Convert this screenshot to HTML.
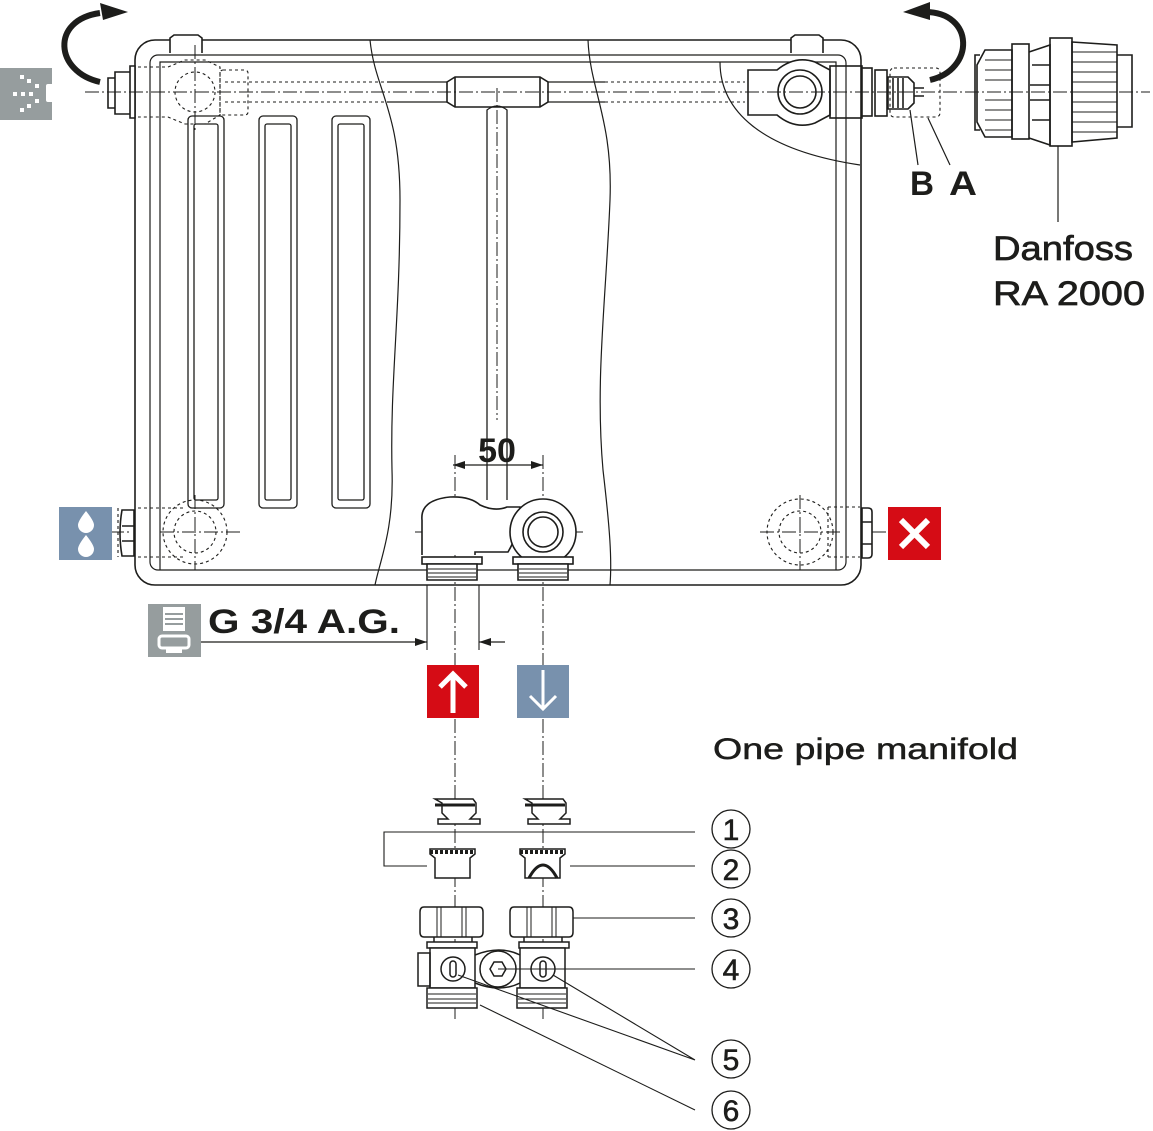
<!DOCTYPE html>
<html><head><meta charset="utf-8"><style>
html,body{margin:0;padding:0;background:#fff}
svg{display:block}
text{font-family:"Liberation Sans",sans-serif;fill:#1d1d1b}
</style></head><body>
<svg width="1153" height="1131" viewBox="0 0 1153 1131" xmlns="http://www.w3.org/2000/svg">
<defs>
<marker id="ar" markerWidth="12" markerHeight="8" refX="12" refY="4" orient="auto" markerUnits="userSpaceOnUse"><path d="M0,0 L12,4 L0,8 z" fill="#1d1d1b"/></marker>
</defs>
<g fill="none" stroke="#1d1d1b" stroke-width="1.6">
<rect x="135" y="40" width="726" height="545" rx="20"/>
<rect x="150" y="55" width="696" height="515" rx="8" stroke-width="1.2"/>
<path d="M160 570 V62 H836 V570" stroke-width="1.2"/>
<path d="M170 53 V38 l4 -3 h24 l4 3 V53" fill="#fff"/>
<path d="M791 53 V38 l4 -3 h24 l4 3 V53" fill="#fff"/>
<g stroke-width="1.3">
<rect x="188" y="116" width="36" height="392" rx="4"/><rect x="194" y="124" width="24" height="376" rx="2"/>
<rect x="259" y="116" width="38" height="392" rx="4"/><rect x="265" y="124" width="26" height="376" rx="2"/>
<rect x="332" y="116" width="38" height="392" rx="4"/><rect x="338" y="124" width="26" height="376" rx="2"/>
</g>
<path d="M370 40 C375 90 400 110 400 200 C400 320 390 380 392 470 C394 530 380 560 375 585" stroke-width="1.2"/>
<path d="M588 40 C590 90 613 120 610 200 C606 300 595 380 603 470 C610 530 612 560 610 585" stroke-width="1.2"/>
<path d="M720 62 C720 110 760 150 860 165" stroke-width="1.2"/>
<path d="M387 82 H447 M387 102 H447 M548 82 H605 M548 102 H605" stroke-width="1.3"/>
<path d="M225 82 H387 M225 102 H387 M605 82 H745 M605 102 H745" stroke-width="1.1" stroke-dasharray="3 3"/>
<path d="M447 82 l8 -5 h85 l8 5 v20 l-8 5 h-85 l-8 -5 z" fill="#fff"/>
<path d="M455 77 v30 M540 77 v30"/>
<path d="M487 500 V110 q10 -8 20 0 V500" stroke-width="1.3"/>
<g stroke-width="1.1" stroke-dasharray="3 3">
<path d="M138 67 H168 L185 60 H205 L220 67 V115 L205 124 H185 L168 117 H138"/>
<circle cx="195" cy="92" r="20"/>
<rect x="220" y="70" width="28" height="45" rx="3"/>
<circle cx="195" cy="532" r="32"/><circle cx="195" cy="532" r="21"/>
<path d="M138 508 H185 M138 557 H185 M118 508 v49"/>
<circle cx="800" cy="532" r="33"/><circle cx="800" cy="532" r="21"/>
<path d="M828 507 H860 M828 557 H860 M828 507 v50"/>
</g>
<path d="M115 72 h15 v42 h-15 z M108 78 h7 v30 h-7 z M130 66 h5 v52 h-5 z" fill="#fff"/>
<path d="M122 510 h12 v46 h-12 q-4 -23 0 -46 z" fill="#fff"/>
<path d="M122 526 h12 M122 541 h12"/>
<path d="M862 508 h6 q4 0 4 4 v42 q0 4 -4 4 h-6 z M862 522 h10 M862 544 h10" fill="#fff"/>
<path d="M748 70 H777 Q795 55 815 62 L830 70 V115 L815 123 Q795 130 777 115 H748 Z" fill="#fff"/>
<circle cx="800" cy="92" r="22"/><circle cx="800" cy="92" r="16"/>
<rect x="830" y="66" width="32" height="52"/>
<rect x="862" y="68" width="10" height="48" fill="#fff"/>
<rect x="875" y="70" width="12" height="46"/>
<path d="M888 77 h20 l6 6 v20 l-6 6 h-20 z"/>
<path d="M893 78 v30 M898 78 v30 M903 78 v30"/>
<path d="M914 88 h10 M914 96 h10"/>
<rect x="890" y="68" width="50" height="49" rx="4" stroke-width="1.1" stroke-dasharray="3 3"/>
<path d="M985 50 H1012 V137 H985 L977 122 V65 Z" fill="#fff"/>
<path d="M980 55 h-5 v75 h5"/>
<rect x="1012" y="44" width="17" height="95"/>
<path d="M1029 52 L1050 45 V145 L1029 138"/>
<path d="M1030 85 h20 M1030 100 h20 M1032 65 h18 M1032 120 h18"/>
<rect x="1050" y="38" width="22" height="108"/>
<path d="M1072 42 L1117 45 V138 L1072 142 Z"/>
<path d="M1117 55 h15 v72 h-15"/>
<g stroke-width="1">
<path d="M985 60 h27 M985 70 h27 M985 80 h27 M985 100 h27 M985 110 h27 M985 120 h27 M985 130 h27"/>
<path d="M1072 52 h45 M1072 62 h45 M1072 72 h45 M1072 82 h45 M1072 92 h45 M1072 102 h45 M1072 112 h45 M1072 122 h45 M1072 132 h45"/>
</g>
<path d="M1058 146 V222" stroke-width="1.2"/>
<path d="M910 110 L918 165 M928 118 L950 165" stroke-width="1.2"/>
<g stroke-width="1" stroke-dasharray="14 3 2 3">
<path d="M85 92 H1150"/>
<path d="M195 45 V130"/>
<path d="M160 532 H240 M110 532 H130"/>
<path d="M195 495 V570"/>
<path d="M760 532 H840 M872 532 H890"/>
<path d="M800 495 V570"/>
<path d="M497 88 V420"/>
<path d="M415 532 H585"/>
<path d="M455 455 V1020"/>
<path d="M543 455 V1020"/>
</g>
<path d="M422 555 V520 Q420 500 450 497 Q470 496 480 505 Q495 512 507 507 H520 Q520 532 508 552 H475 V555" fill="#fff"/>
<circle cx="543" cy="532" r="33" fill="#fff"/>
<circle cx="543" cy="532" r="20"/><circle cx="543" cy="532" r="15"/>
<rect x="422" y="557" width="60" height="7" fill="#fff"/>
<rect x="513" y="557" width="60" height="7" fill="#fff"/>
<path d="M427 564 h50 v16 h-50 z M518 564 h50 v16 h-50 z" fill="#fff"/>
<path d="M428 569 h48 M428 573 h48 M428 577 h48 M519 569 h48 M519 573 h48 M519 577 h48" stroke-width="1"/>
<path d="M497 465 H453" marker-end="url(#ar)" stroke-width="1.2"/>
<path d="M497 465 H543" marker-end="url(#ar)" stroke-width="1.2"/>
<path d="M427 585 V650 M479 585 V650" stroke-width="1.1"/>
<path d="M201 642 H427" marker-end="url(#ar)" stroke-width="1.2"/>
<path d="M505 642 H479" marker-end="url(#ar)" stroke-width="1.2"/>
<g stroke-width="1.5">
<path d="M435 799 h38 l3 4 v10 l-6 6 h10 v5 h-42 v-5 h10 l-6 -6 v-10 z" fill="#fff"/>
<path d="M435 805 h40" stroke-width="3"/>
<path d="M525 799 h38 l3 4 v10 l-6 6 h10 v5 h-42 v-5 h10 l-6 -6 v-10 z" fill="#fff"/>
<path d="M525 805 h40" stroke-width="3"/>
<path d="M430 849 h45 v5 l-5 4 v20 h-35 v-20 l-5 -4 z" fill="#fff"/>
<path d="M430 852 h45" stroke-width="4" stroke-dasharray="3 2"/>
<path d="M520 849 h45 v5 l-5 4 v20 h-35 v-20 l-5 -4 z" fill="#fff"/>
<path d="M520 852 h45" stroke-width="4" stroke-dasharray="3 2"/>
<path d="M529 878 q14 -26 28 0" stroke-width="3"/>
<path d="M424 907 h55 q4 0 4 5 v20 q0 5 -4 5 h-55 q-4 0 -4 -5 v-20 q0 -5 4 -5 z" fill="#fff"/>
<path d="M437 907 v30 M466 907 v30 M441 907 v30 M462 907 v30" stroke-width="1"/>
<path d="M514 907 h55 q4 0 4 5 v20 q0 5 -4 5 h-55 q-4 0 -4 -5 v-20 q0 -5 4 -5 z" fill="#fff"/>
<path d="M527 907 v30 M556 907 v30 M531 907 v30 M552 907 v30" stroke-width="1"/>
<path d="M434 937 v10 h38 v-10 M524 937 v10 h38 v-10"/>
<rect x="427" y="942" width="50" height="6" fill="#fff"/>
<rect x="519" y="942" width="50" height="6" fill="#fff"/>
<path d="M430 948 h45 v40 h-45 z M520 948 h45 v40 h-45 z" fill="#fff"/>
<path d="M418 953 h12 v33 h-12 z"/>
<path d="M475 955 Q500 945 520 955 M475 983 Q500 993 520 983"/>
<circle cx="498" cy="969" r="18" fill="#fff"/>
<path d="M490 969 l4 -7 h8 l4 7 l-4 7 h-8 z"/>
<circle cx="453" cy="969" r="12"/><circle cx="543" cy="969" r="12"/>
<rect x="450" y="961" width="6" height="16" rx="3"/><rect x="540" y="961" width="6" height="16" rx="3"/>
<path d="M427 988 h50 v20 h-50 z M517 988 h50 v20 h-50 z" fill="#fff"/>
<path d="M428 994 h48 M428 999 h48 M428 1003 h48 M518 994 h48 M518 999 h48 M518 1003 h48" stroke-width="1"/>
</g>
<g stroke-width="1.1">
<path d="M695 832 H384 V866 H427"/>
<path d="M570 866 H695"/>
<path d="M573 918 H695"/>
<path d="M498 969 H695"/>
<path d="M458 975 L695 1060 M553 975 L695 1060"/>
<path d="M480 1005 L695 1110"/>
</g>
<g stroke-width="1.3">
<circle cx="731" cy="829" r="19"/><circle cx="731" cy="869" r="19"/><circle cx="731" cy="918" r="19"/>
<circle cx="731" cy="969" r="19"/><circle cx="731" cy="1059" r="19"/><circle cx="731" cy="1110" r="19"/>
</g>
</g>
<g fill="none" stroke="#1d1d1b" stroke-width="6">
<path d="M100 82 C55 72 50 20 100 13"/>
<path d="M930 80 C975 70 975 12 925 12"/>
</g>
<path d="M100 3 L128 12 L103 20 Z" fill="#1d1d1b"/>
<path d="M930 2 L903 12 L930 20 Z" fill="#1d1d1b"/>
<rect x="0" y="68" width="52" height="52" fill="#969d9e"/>
<rect x="46" y="84" width="8" height="18" rx="2" fill="#fff"/>
<g fill="#fff"><rect x="20" y="75" width="4" height="4"/><rect x="27" y="79" width="4" height="4"/><rect x="35" y="84" width="4" height="4"/><rect x="13" y="92" width="4" height="4"/><rect x="21" y="92" width="4" height="4"/><rect x="29" y="92" width="4" height="4"/><rect x="20" y="108" width="4" height="4"/><rect x="27" y="104" width="4" height="4"/><rect x="35" y="99" width="4" height="4"/></g>
<rect x="59" y="507" width="53" height="53" fill="#7891ad"/>
<path d="M86 511 q-8 10 -8 14 a8 8 0 0 0 16 0 q0 -4 -8 -14z M86 535 q-8 10 -8 14 a8 8 0 0 0 16 0 q0 -4 -8 -14z" fill="#fff"/>
<rect x="888" y="507" width="53" height="53" fill="#d50c15"/>
<path d="M901 520 L928 547 M928 520 L901 547" stroke="#fff" stroke-width="6"/>
<rect x="148" y="604" width="53" height="53" fill="#969d9e"/>
<rect x="163" y="607" width="22" height="24" fill="#fff"/>
<path d="M165 614 h18 M165 619 h18 M165 624 h18" stroke="#969d9e" stroke-width="2"/>
<rect x="159" y="636" width="30" height="12" rx="3" fill="none" stroke="#fff" stroke-width="3"/>
<rect x="166" y="648" width="16" height="5" fill="#fff"/>
<rect x="427" y="665" width="52" height="53" fill="#d50c15"/>
<path d="M453 713 V674 M440 687 L453 674 L466 687" stroke="#fff" stroke-width="5" fill="none"/>
<rect x="517" y="665" width="52" height="53" fill="#7891ad"/>
<path d="M543 670 V709 M530 696 L543 709 L556 696" stroke="#fff" stroke-width="3" fill="none"/>
<text x="497" y="462" font-size="34" font-weight="bold" text-anchor="middle">50</text>
<text x="208" y="633" font-size="34" font-weight="bold" textLength="192" lengthAdjust="spacingAndGlyphs">G 3/4 A.G.</text>
<text x="910" y="195" font-size="34" font-weight="bold" textLength="24" lengthAdjust="spacingAndGlyphs">B</text>
<text x="949" y="195" font-size="34" font-weight="bold" textLength="28" lengthAdjust="spacingAndGlyphs">A</text>
<text x="993" y="260" font-size="34" stroke="#1d1d1b" stroke-width="0.7" textLength="140" lengthAdjust="spacingAndGlyphs">Danfoss</text>
<text x="993" y="305" font-size="34" stroke="#1d1d1b" stroke-width="0.7" textLength="152" lengthAdjust="spacingAndGlyphs">RA 2000</text>
<text x="713" y="759" font-size="30" stroke="#1d1d1b" stroke-width="0.5" textLength="305" lengthAdjust="spacingAndGlyphs">One pipe manifold</text>
<g font-size="30" text-anchor="middle" stroke="#1d1d1b" stroke-width="0.6">
<text x="731" y="840">1</text><text x="731" y="880">2</text><text x="731" y="929">3</text>
<text x="731" y="980">4</text><text x="731" y="1070">5</text><text x="731" y="1121">6</text>
</g>
</svg>
</body></html>
